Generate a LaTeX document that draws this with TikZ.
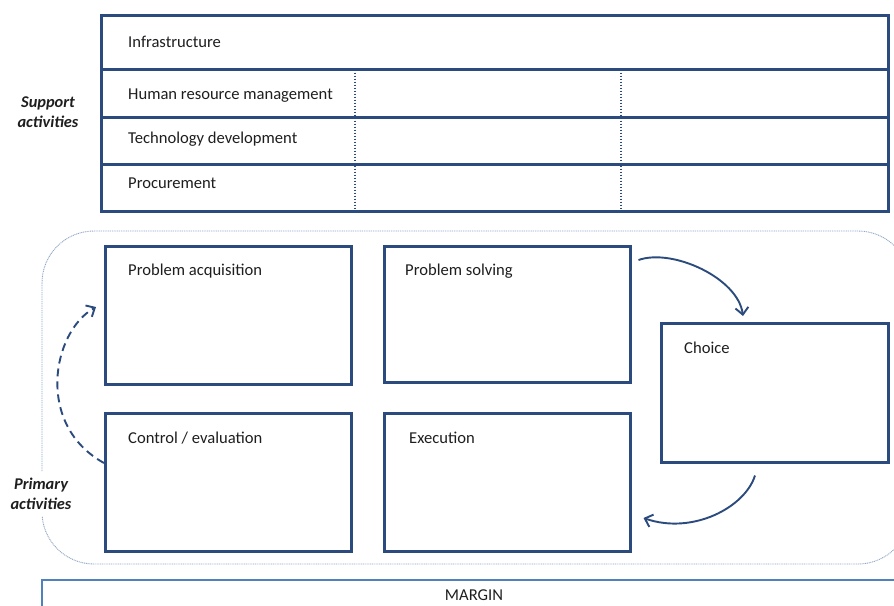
\documentclass[tikz,border=0pt]{standalone}
\usepackage{fontspec}
\setmainfont{Carlito}
\usetikzlibrary{arrows.meta,calc}
\definecolor{dblue}{HTML}{2B4B7E}
\definecolor{mblue}{HTML}{4F81BD}
\definecolor{fgray}{HTML}{8FA6C4}
\definecolor{ink}{HTML}{1E1E1E}
\begin{document}
\begin{tikzpicture}[x=1pt,y=-1pt,
  box/.style={draw=dblue,line width=2.5pt,anchor=north west,inner sep=0pt},
  txt/.style={anchor=base west,inner sep=0pt,font=\fontsize{16.6}{19}\selectfont,text=ink},
  side/.style={font=\fontsize{16.4}{20}\selectfont\bfseries\itshape,align=center,inner sep=2pt,text=ink},
  flow/.style={draw=dblue,line width=1.9pt,-{Straight Barb[length=7pt,width=13pt,line width=1.9pt]}},
  vdots/.style={draw=dblue,line width=1.8pt,dash pattern=on 1.6pt off 1.4pt},
  frame/.style={draw=fgray,line width=0.9pt,dash pattern=on 1pt off 0.8pt,rounded corners=52pt}
]
\useasboundingbox (0,0) rectangle (894,605);
\clip (0,0) rectangle (894,605);

% support activities table
\node[box,minimum width=787pt,minimum height=54pt] (r1) at (100,14) {};
\node[box,minimum width=787pt,minimum height=48pt] (r2) at (100,68) {};
\node[box,minimum width=787pt,minimum height=47pt] (r3) at (100,116) {};
\node[box,minimum width=787pt,minimum height=47pt] (r4) at (100,163) {};
\draw[vdots] ($(r2.north west)+(255,1.5)$) -- ($(r4.south west)+(255,-1.5)$);
\draw[vdots] ($(r2.north west)+(521,1.5)$) -- ($(r4.south west)+(521,-1.5)$);
\node[txt] (t1) at ($(r1.north west)+(28,33)$) {Infrastructure};
\node[txt] (t2) at ($(r2.north west)+(28,31)$) {Human resource management};
\node[txt] (t3) at ($(r3.north west)+(28,27)$) {Technology development};
\node[txt] (t4) at ($(r4.north west)+(28,25)$) {Procurement};
\node[side] (sup) at (48,112) {Support\\activities};

% primary activities frame
\draw[frame] (42,231) rectangle (910,564);
\node[side,fill=white,inner ysep=6pt] (pri) at (41,494) {Primary\\activities};

% primary boxes
\node[box,minimum width=246pt,minimum height=138pt] (pa) at (104,245) {};
\node[box,minimum width=246pt,minimum height=136pt] (ps) at (383,245) {};
\node[box,minimum width=246pt,minimum height=138pt] (ce) at (104,412) {};
\node[box,minimum width=246pt,minimum height=138pt] (ex) at (383,412) {};
\node[box,minimum width=227pt,minimum height=139pt] (ch) at (660,322) {};
\node[txt] (tpa) at ($(pa.north west)+(24,30)$) {Problem acquisition};
\node[txt] (tps) at ($(ps.north west)+(22,30)$) {Problem solving};
\node[txt] (tce) at ($(ce.north west)+(24,31)$) {Control / evaluation};
\node[txt] (tex) at ($(ex.north west)+(26,31)$) {Execution};
\node[txt] (tch) at ($(ch.north west)+(24,31)$) {Choice};

% connectors
\coordinate (a1s) at ($(ps.north east)+(7,15)$);
\coordinate (a1e) at ($(ch.north west)+(83,-6)$);
\draw[flow] (a1s) .. controls ($(a1s)+(34,-12)$) and ($(a1e)+(-5,-38)$) .. (a1e);
\coordinate (a2s) at ($(ch.south west)+(95,12)$);
\coordinate (a2e) at ($(ex.north east)+(12,106)$);
\draw[flow] (a2s) .. controls ($(a2s)+(-10,32)$) and ($(a2e)+(49,17)$) .. (a2e);
\coordinate (a3s) at ($(ce.north west)+(0,51)$);
\coordinate (a3e) at ($(pa.north west)+(-8,62)$);
\draw[flow,dash pattern=on 8pt off 5pt] (a3s) .. controls ($(a3s)+(-69,-38)$) and ($(a3e)+(-44,25)$) .. (a3e);

% margin
\node[draw=mblue,line width=2pt,anchor=north west,minimum width=900pt,minimum height=60pt,inner sep=0pt] (mg) at (41,579) {};
\node[txt,anchor=base] (tmg) at (474,600) {MARGIN};
\end{tikzpicture}
\end{document}
